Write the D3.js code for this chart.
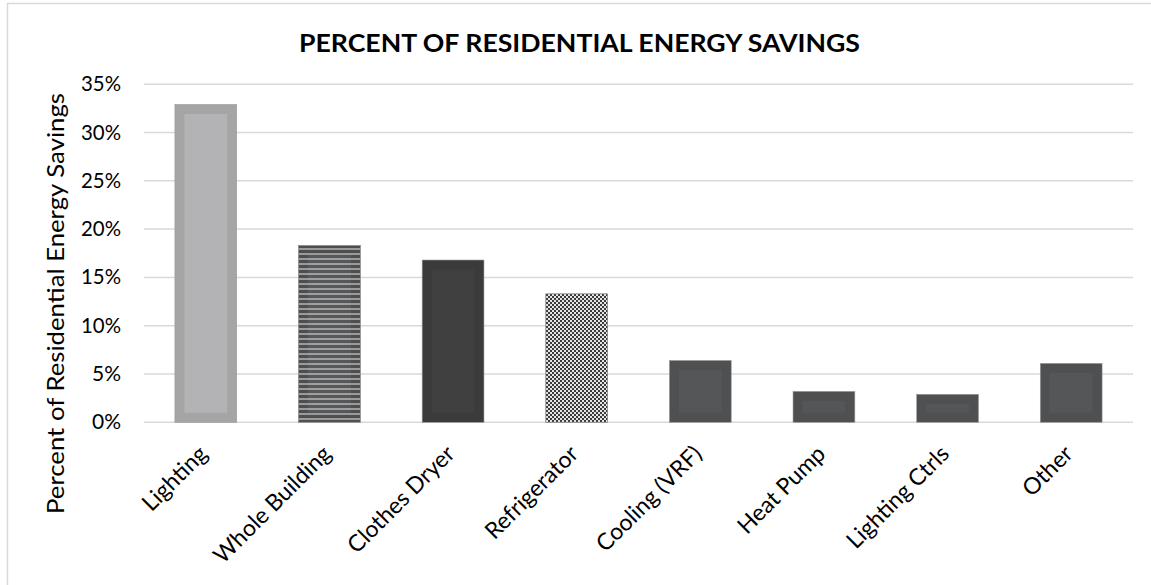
<!DOCTYPE html>
<html><head><meta charset="utf-8">
<script src="https://cdn.jsdelivr.net/npm/d3@7"></script>
<style>
html,body{margin:0;padding:0;background:#fff;}
svg{display:block;}
</style></head>
<body>
<svg id="chart" width="1151" height="585"></svg>
<script>
const categories = ["Lighting","Whole Building","Clothes Dryer","Refrigerator","Cooling (VRF)","Heat Pump","Lighting Ctrls","Other"];
const savings = [0.329, 0.183, 0.168, 0.133, 0.064, 0.032, 0.029, 0.061];
const yTicks = [0,0.05,0.10,0.15,0.20,0.25,0.30,0.35];
const barStyles = ["light","stripes","dark","checker","mid","mid","mid","mid"];
const chartTitle = "PERCENT OF RESIDENTIAL ENERGY SAVINGS";
const yLabel = "Percent of Residential Energy Savings";
const caption = "Figure 7: Percent of Energy Savings by Type of Project";

const svg = d3.select("#chart");
const FONT = "Lato, 'Open Sans', sans-serif";

const defs = svg.append("defs");
const stripes = defs.append("pattern").attr("id","stripes").attr("patternUnits","userSpaceOnUse").attr("width",6).attr("height",5);
stripes.append("rect").attr("width",6).attr("height",5).attr("fill","#9a9a9a");
stripes.append("rect").attr("width",6).attr("height",3).attr("fill","#4d4e4f");
const checker = defs.append("pattern").attr("id","checker").attr("patternUnits","userSpaceOnUse").attr("width",4).attr("height",4);
checker.append("rect").attr("width",4).attr("height",4).attr("fill","#e6e6e6");
checker.append("rect").attr("width",2).attr("height",2).attr("fill","#3a3a3a");
checker.append("rect").attr("x",2).attr("y",2).attr("width",2).attr("height",2).attr("fill","#3a3a3a");

// caption (cut off at top)
svg.append("text").attr("x",10).attr("y",-4).attr("font-family",FONT).attr("font-weight","bold")
  .attr("font-size",22).attr("fill","#000").text(caption);

// frame
svg.append("path").attr("d","M7.5,1200 V3.5 H1200").attr("fill","none").attr("stroke","#d9d9d9").attr("stroke-width",1.5);

const margin = {left:144, right:1133, top:84.2, bottom:422.3};
const x = d3.scaleBand().domain(categories).range([margin.left, margin.right]).paddingInner(0.5).paddingOuter(0.25);
const y = d3.scaleLinear().domain([0,0.35]).range([margin.bottom, margin.top]);

// gridlines
svg.append("g").selectAll("line").data(yTicks).join("line")
  .attr("x1",margin.left).attr("x2",margin.right)
  .attr("y1",d=>y(d)).attr("y2",d=>y(d))
  .attr("stroke","#d9d9d9").attr("stroke-width",1.5);

// y axis
const yAxis = d3.axisLeft(y).tickValues(yTicks).tickFormat(d3.format(".0%")).tickSize(0).tickPadding(0);
const gy = svg.append("g").attr("transform",`translate(${margin.left-23},0)`).call(yAxis);
gy.select(".domain").remove();
gy.selectAll("text").attr("font-family",FONT).attr("font-size",20.5).attr("fill","#000")
  .attr("textLength",function(){ return this.textContent.length===3 ? 40 : 29; })
  .attr("lengthAdjust","spacingAndGlyphs");

// bars
const colors = {
  light:{outer:"#a5a5a5", inner:"#b3b3b5"},
  dark:{outer:"#3b3b3b", inner:"#404041"},
  mid:{outer:"#4f5052", inner:"#555658"}
};
const inset = 9.5;
const bars = svg.append("g").selectAll("g").data(categories).join("g");
bars.each(function(c,i){
  const g = d3.select(this);
  const st = barStyles[i];
  const x0 = x(c), w = x.bandwidth(), y0 = y(savings[i]), h = y(0)-y(savings[i]);
  if (st === "stripes" || st === "checker") {
    g.append("rect").attr("x",x0).attr("y",y0).attr("width",w).attr("height",h)
      .attr("fill",`url(#${st})`).attr("stroke","#8a8a8a").attr("stroke-width",0.8);
    if (st==="stripes") g.append("rect").attr("x",x0+inset).attr("y",y0+inset).attr("width",w-2*inset).attr("height",Math.max(0,h-2*inset))
      .attr("fill","#fff").attr("opacity",0.06);
  } else {
    const col = colors[st];
    g.append("rect").attr("x",x0).attr("y",y0).attr("width",w).attr("height",h)
      .attr("fill",col.outer).attr("stroke","#9a9a9a").attr("stroke-width",0.6);
    g.append("rect").attr("x",x0+inset).attr("y",y0+inset).attr("width",w-2*inset).attr("height",Math.max(0,h-2*inset))
      .attr("fill",col.inner);
  }
});

// x labels
const xAxis = d3.axisBottom(x).tickSize(0).tickPadding(0);
const gx = svg.append("g").attr("transform",`translate(0,${margin.bottom})`).call(xAxis);
gx.select(".domain").remove();
gx.selectAll("text").attr("font-family",FONT).attr("font-size",23).attr("fill","#000")
  .attr("text-anchor","end").attr("dy",null).attr("y",0)
  .attr("transform","translate(3,33) rotate(-45)");

// title
svg.append("text").attr("x",579.5).attr("y",52).attr("text-anchor","middle")
  .attr("font-family",FONT).attr("font-weight","bold").attr("font-size",25).attr("fill","#000")
  .attr("textLength",561).attr("lengthAdjust","spacingAndGlyphs")
  .text(chartTitle);

// y label
svg.append("text").attr("transform","translate(63.5,303.5) rotate(-90)").attr("text-anchor","middle")
  .attr("font-family",FONT).attr("font-size",22.5).attr("fill","#000")
  .attr("textLength",421).attr("lengthAdjust","spacingAndGlyphs").text(yLabel);
</script>
</body></html>
